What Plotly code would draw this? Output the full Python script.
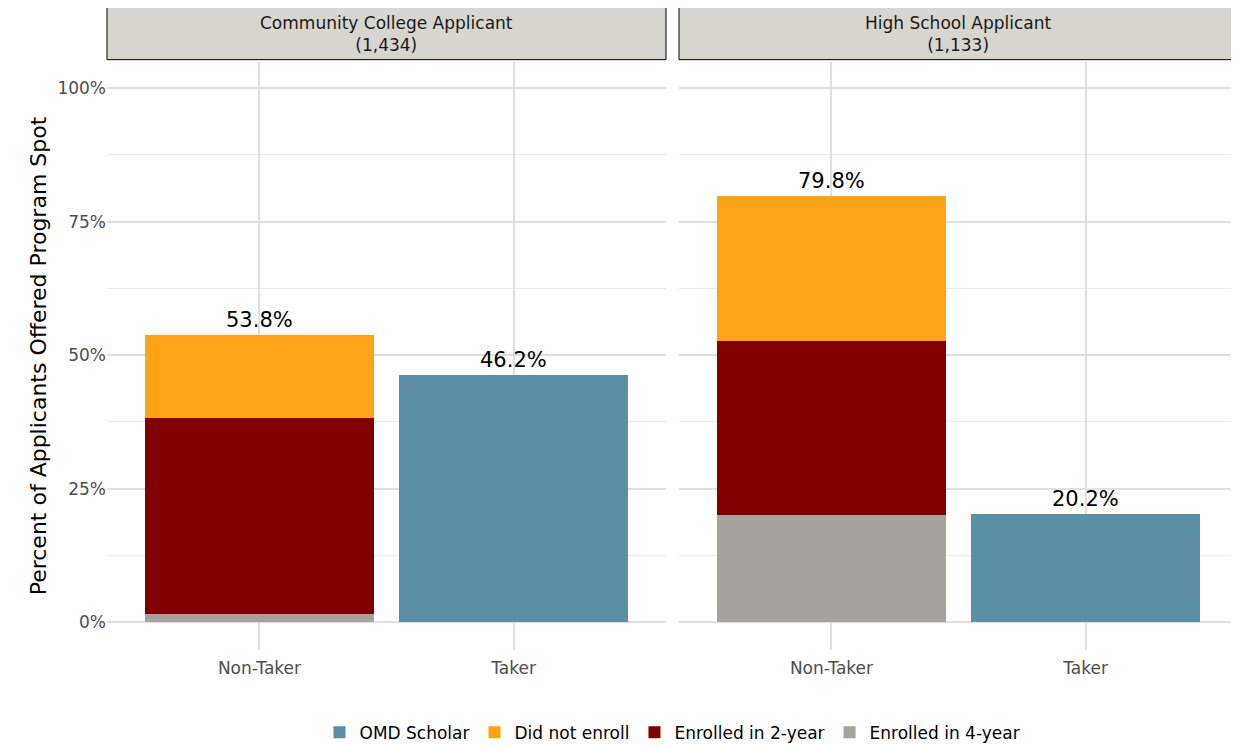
import plotly.graph_objects as go
from plotly.subplots import make_subplots

panels = ["Community College Applicant<br>(1,434)", "High School Applicant<br>(1,133)"]
cats = ["Non-Taker", "Taker"]
enr4 = [[1.5, 0], [20.0, 0]]
enr2 = [[36.7, 0], [32.6, 0]]
notenr = [[15.6, 0], [27.2, 0]]
omd = [[0, 46.2], [0, 20.2]]
totals = [[53.8, 46.2], [79.8, 20.2]]

series = [("Enrolled in 4-year", enr4, "#A6A29D", 4),
          ("Enrolled in 2-year", enr2, "#800000", 3),
          ("Did not enroll", notenr, "#FFA319", 2),
          ("OMD Scholar", omd, "#5B8FA8", 1)]

fig = make_subplots(rows=1, cols=2, shared_yaxes=True, horizontal_spacing=0.0115)
for p in range(2):
    for name, vals, col, rank in series:
        fig.add_trace(go.Bar(x=cats, y=vals[p], name=name, marker_color=col, marker_line_width=0,
                             width=0.9, showlegend=(p == 0), legendrank=rank, legendgroup=name),
                      row=1, col=p + 1)
    for c, t in zip(cats, totals[p]):
        fig.add_annotation(x=c, y=t, text=f"{t:.1f}%", showarrow=False, yanchor="bottom", yshift=1,
                           font=dict(size=21, color="black"), xref=f"x{p+1 if p else ''}", yref="y")

dom = [fig.layout.xaxis.domain, fig.layout.xaxis2.domain]
for p in range(2):
    fig.add_shape(type="rect", xref="paper", yref="paper", x0=dom[p][0], x1=dom[p][1], y0=1.004, y1=1.097,
                  fillcolor="#D6D6CE", line=dict(color="black", width=1))
    fig.add_annotation(xref="paper", yref="paper", x=(dom[p][0] + dom[p][1]) / 2, y=1.047, text=panels[p],
                       showarrow=False, xanchor="center", yanchor="middle", align="center",
                       font=dict(size=17, color="#1a1a1a"))

ax = dict(range=[-0.6, 1.6], showgrid=True, gridcolor="#E0E0E0", gridwidth=1.5, tickfont=dict(size=17, color="#4d4d4d"),
          ticks="", zeroline=False, ticklabelstandoff=6)
fig.update_xaxes(**ax)
fig.update_yaxes(range=[-5.2, 104.9], tickvals=[0, 25, 50, 75, 100], ticktext=["0%", "25%", "50%", "75%", "100%"],
                 showgrid=True, gridcolor="#E0E0E0", gridwidth=1.5, zeroline=False, tickfont=dict(size=17, color="#4d4d4d"),
                 automargin=False,
                 minor=dict(tickvals=[12.5, 37.5, 62.5, 87.5], showgrid=True, gridcolor="#EBEBEB", gridwidth=1))
fig.update_yaxes(title_text="Percent of Applicants Offered Program Spot", title_font=dict(size=22, color="black"),
                 title_standoff=4, row=1, col=1)
fig.update_layout(barmode="stack", width=1239, height=748, plot_bgcolor="white", paper_bgcolor="white",
                  font=dict(family="DejaVu Sans"), margin=dict(l=99, r=9, t=54, b=106, autoexpand=False), bargap=0.1,
                  legend=dict(orientation="h", x=0.5, xanchor="center", y=-0.11, yanchor="top",
                              font=dict(size=17, color="black"), traceorder="normal"))
fig.write_html("out.html")
